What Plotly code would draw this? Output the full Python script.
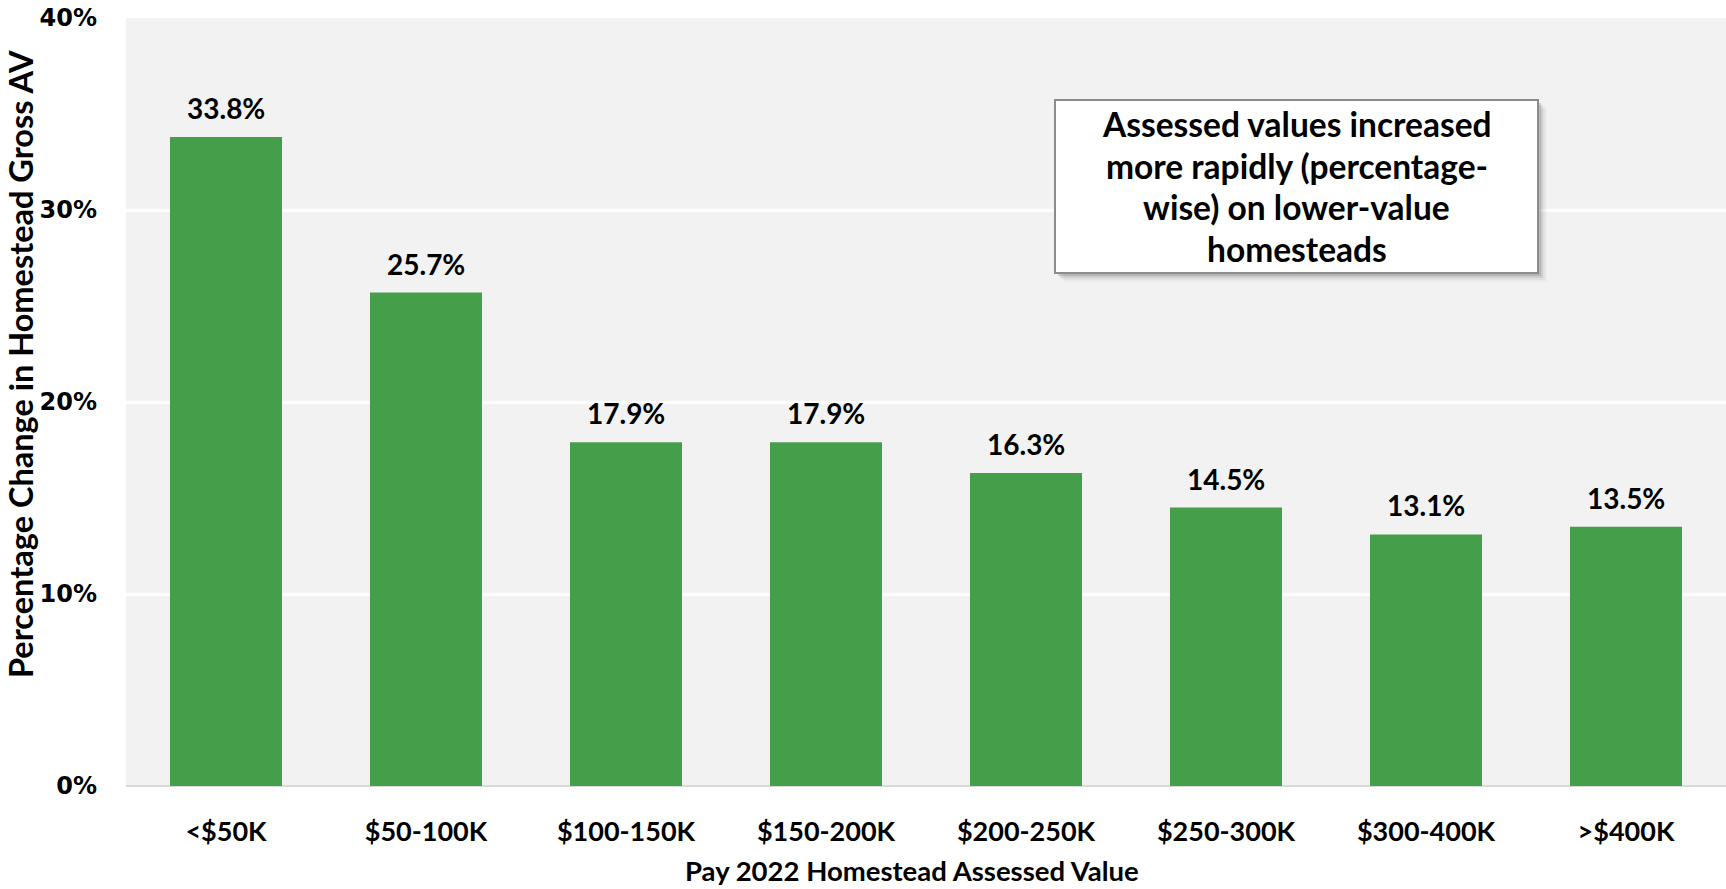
import plotly.graph_objects as go

categories = ["<$50K", "$50-100K", "$100-150K", "$150-200K", "$200-250K", "$250-300K", "$300-400K", ">$400K"]
pct_change = [33.8, 25.7, 17.9, 17.9, 16.3, 14.5, 13.1, 13.5]
y_ticks = [0, 10, 20, 30, 40]
y_tick_labels = ["0%", "10%", "20%", "30%", "40%"]
note_lines = ["Assessed values increased", "more rapidly (percentage-", "wise) on lower-value", "homesteads"]
x_title = "Pay 2022 Homestead Assessed Value"
y_title = "Percentage Change in Homestead Gross AV"

W, H = 1726, 889
ML, MR, MT, MB = 126, 0, 18, 103
PW = W - ML - MR
PH = H - MT - MB

def px_x(p):
    return (p - ML) / PW

def px_y(p):
    return (H - MB - p) / PH

BAR = "#459E49"
LABEL_FONT = "Lato, 'Open Sans', sans-serif"

fig = go.Figure()
fig.add_trace(go.Bar(
    x=categories, y=pct_change, marker=dict(color=BAR, line=dict(width=0)),
    hoverinfo="x+y",
))

annotations = []
for c, v in zip(categories, pct_change):
    annotations.append(dict(
        x=c, y=v, xref="x", yref="y", text=f"<b>{v:.1f}%</b>", showarrow=False,
        yanchor="bottom", yshift=10, font=dict(family=LABEL_FONT, size=28, color="#000000"),
    ))

# y-axis title
annotations.append(dict(
    x=px_x(20), y=px_y(364), xref="paper", yref="paper", text=f"<b>{y_title}</b>",
    textangle=-90, showarrow=False, xanchor="center", yanchor="middle",
    font=dict(family=LABEL_FONT, size=32.5, color="#000000"),
))
# x-axis title
annotations.append(dict(
    x=px_x(912), y=px_y(870), xref="paper", yref="paper", text=f"<b>{x_title}</b>",
    showarrow=False, xanchor="center", yanchor="middle",
    font=dict(family=LABEL_FONT, size=27.5, color="#000000"),
))
# note box text, one annotation per line
for i, line in enumerate(note_lines):
    annotations.append(dict(
        x=px_x(1296.5), y=px_y(124 + 41.7 * i), xref="paper", yref="paper", text=f"<b>{line}</b>",
        showarrow=False, xanchor="center", yanchor="middle", align="center",
        font=dict(family=LABEL_FONT, size=33.5, color="#000000"),
    ))

shapes = []
bx0, bx1, by0, by1 = 1055, 1538, 100, 273
for off, op in [(9, 0.05), (7, 0.10), (5, 0.18), (3, 0.30)]:
    shapes.append(dict(
        type="rect", xref="paper", yref="paper",
        x0=px_x(bx0 + off), x1=px_x(bx1 + off), y0=px_y(by1 + off), y1=px_y(by0 + off),
        fillcolor="#7f7f7f", opacity=op, line=dict(width=0), layer="above",
    ))
shapes.append(dict(
    type="rect", xref="paper", yref="paper",
    x0=px_x(bx0), x1=px_x(bx1), y0=px_y(by1), y1=px_y(by0),
    fillcolor="#ffffff", line=dict(color="#8c8c8c", width=2), layer="above",
))

fig.update_layout(
    width=W, height=H,
    margin=dict(l=ML, r=MR, t=MT, b=MB, autoexpand=False),
    paper_bgcolor="#ffffff", plot_bgcolor="#f2f2f2",
    bargap=0.44, showlegend=False,
    annotations=annotations, shapes=shapes,
)
fig.update_xaxes(
    showgrid=False, showline=False, ticks="", zeroline=False,
    tickfont=dict(family=LABEL_FONT, size=27, color="#000000", weight="bold"),
    ticklabelstandoff=27,
)
fig.update_yaxes(
    range=[0, 40], tickvals=y_ticks, ticktext=[f"<b>{t}</b>" for t in y_tick_labels],
    showgrid=True, gridcolor="#ffffff", gridwidth=2.5,
    zeroline=True, zerolinecolor="#d9d9d9", zerolinewidth=2,
    showline=False, ticks="", ticklabelstandoff=28,
    tickfont=dict(family="'DejaVu Sans', Verdana, sans-serif", size=24, color="#000000"),
)

fig.write_html("out.html", config={"displayModeBar": False},
               post_script="document.body.style.margin='0px';")
